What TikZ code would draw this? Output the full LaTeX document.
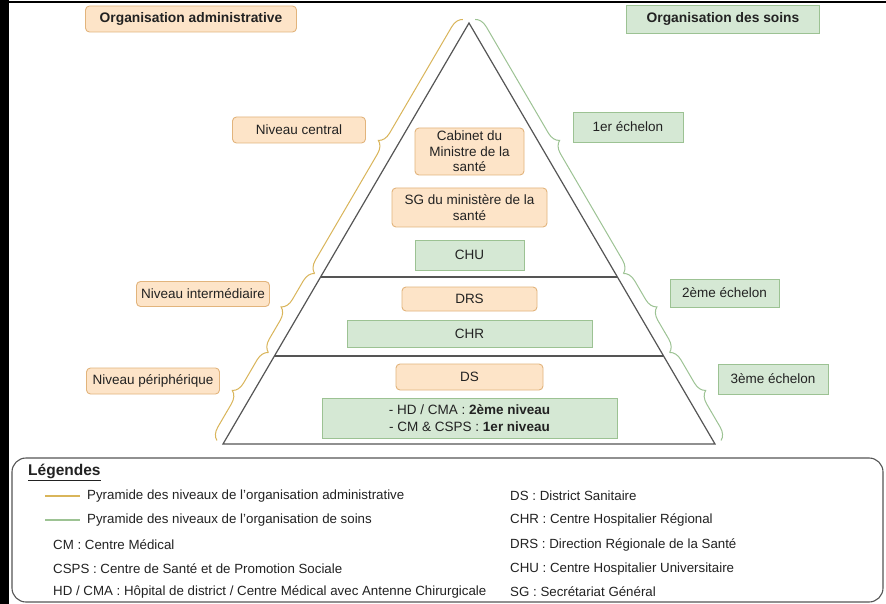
\documentclass[tikz,border=0pt]{standalone}
\usepackage{fontspec}
\setmainfont{Liberation Sans}
\usetikzlibrary{decorations.pathreplacing,calc}
\definecolor{oFill}{HTML}{FDE4C8}
\definecolor{oStroke}{HTML}{E2B47C}
\definecolor{gFill}{HTML}{D5E8D4}
\definecolor{gStroke}{HTML}{9CC293}
\definecolor{oBrace}{HTML}{D9B55A}
\definecolor{gBrace}{HTML}{9DC394}
\definecolor{pyr}{HTML}{555555}
\definecolor{txt}{HTML}{222222}
\newcommand\bxf{\fontsize{13.5}{15.5}\selectfont}
\newcommand\lgf{\fontsize{13.3}{15}\selectfont}
\tikzset{
  obox/.style={draw=oStroke, fill=oFill, rounded corners=4pt, line width=0.9pt, inner sep=0pt, align=center, font=\bxf, text=txt},
  gbox/.style={draw=gStroke, fill=gFill, line width=0.9pt, inner sep=0pt, align=center, font=\bxf, text=txt},
  obrace/.style={draw=oBrace, line width=1pt, decorate, decoration={brace, amplitude=12pt}},
  gbrace/.style={draw=gBrace, line width=1pt, decorate, decoration={brace, amplitude=12pt}},
  pyrline/.style={draw=pyr, line width=1.2pt},
  lgtxt/.style={anchor=west, inner sep=0pt, font=\lgf, text=txt},
}
\begin{document}
\begin{tikzpicture}[x=1pt,y=-1pt]
\useasboundingbox (0,0) rectangle (886,604);
\fill[white] (0,0) rectangle (886,604);
% screenshot frame
\fill[black] (0,0) rectangle (9,604);
\fill[black] (0,0.8) rectangle (886,3);

% pyramid
\coordinate (apex) at (469,23);
\coordinate (bl) at (223,444);
\coordinate (br) at (715,444);
\coordinate (l1) at (320.6,277);
\coordinate (r1) at (617.4,277);
\coordinate (l2) at (274.4,356);
\coordinate (r2) at (663.6,356);
\draw[pyrline, line join=miter] (apex) -- (bl) -- (br) -- cycle;
\draw[pyrline] (l1) -- (r1);
\draw[pyrline] (l2) -- (r2);

% braces (left: administrative, right: soins)
\draw[obrace] ($(l1)+(-6.05,-3.52)$) -- ($(apex)+(-6.05,-3.52)$);
\draw[obrace] ($(l2)+(-6.05,-3.52)$) -- ($(l1)+(-6.05,-3.52)$);
\draw[obrace] ($(bl)+(-6.05,-3.52)$) -- ($(l2)+(-6.05,-3.52)$);
\draw[gbrace] ($(apex)+(6.05,-3.52)$) -- ($(r1)+(6.05,-3.52)$);
\draw[gbrace] ($(r1)+(6.05,-3.52)$) -- ($(r2)+(6.05,-3.52)$);
\draw[gbrace] ($(r2)+(6.05,-3.52)$) -- ($(br)+(6.05,-3.52)$);

% titles
\node[obox, minimum width=211pt, minimum height=26pt, font=\fontsize{13.8}{16}\selectfont\bfseries] (tadm) at (191,19) {Organisation administrative};
\node[gbox, minimum width=193pt, minimum height=28pt, font=\fontsize{13.8}{16}\selectfont\bfseries] (tsoin) at (723,19) {Organisation des soins};

% level labels
\node[obox, minimum width=133pt, minimum height=26pt] (ncen) at (299,130) {Niveau central};
\node[obox, minimum width=133pt, minimum height=25pt] (nint) at (203,294) {Niveau intermédiaire};
\node[obox, minimum width=133pt, minimum height=26pt] (nper) at (153,381) {Niveau périphérique};
\node[gbox, minimum width=110pt, minimum height=30pt] (e1) at (628,127) {1er échelon};
\node[gbox, minimum width=109pt, minimum height=28pt] (e2) at (724.5,293) {2ème échelon};
\node[gbox, minimum width=110pt, minimum height=30pt] (e3) at (773,379) {3ème échelon};

% inside pyramid
\node[obox, minimum width=109pt, minimum height=47pt] (cab) at (469.5,151.5) {Cabinet du\\Ministre de la\\santé};
\node[obox, minimum width=155pt, minimum height=39pt] (sg) at (469.5,207.5) {SG du ministère de la\\santé};
\node[gbox, minimum width=109pt, minimum height=30pt] (chu) at (469.5,255) {CHU};
\node[obox, minimum width=135pt, minimum height=24pt] (drs) at (469.5,299) {DRS};
\node[gbox, minimum width=245pt, minimum height=27pt] (chr) at (469.5,333.5) {CHR};
\node[obox, minimum width=147pt, minimum height=26pt] (ds) at (469.5,377) {DS};
\node[gbox, minimum width=295pt, minimum height=40pt, font=\fontsize{13.5}{17}\selectfont] (hd) at (469.5,418) {- HD / CMA : \textbf{2ème niveau}\\- CM \& CSPS : \textbf{1er niveau}};

% legend
\node[draw=pyr, line width=1.1pt, rounded corners=14pt, minimum width=871pt, minimum height=144pt, inner sep=0pt] (leg) at (447.5,530) {};
\node[anchor=west, inner sep=0pt, font=\fontsize{15.5}{17}\selectfont\bfseries, text=txt] (legt) at (28,472) {\underline{Légendes}};
\coordinate (ya) at (45,496);
\coordinate (yb) at (80,496);
\coordinate (ga) at (45,520);
\coordinate (gb) at (80,520);
\draw[draw=oBrace, line width=1.2pt] (ya) -- (yb);
\draw[draw=gBrace, line width=1.2pt] (ga) -- (gb);
\node[lgtxt] (lg1) at (87,496) {Pyramide des niveaux de l'organisation administrative};
\node[lgtxt] (lg2) at (87,520) {Pyramide des niveaux de l'organisation de soins};
\node[lgtxt] (lg3) at (53,545) {CM : Centre Médical};
\node[lgtxt] (lg4) at (53,569) {CSPS : Centre de Santé et de Promotion Sociale};
\node[lgtxt] (lg5) at (53,592) {HD / CMA : Hôpital de district / Centre Médical avec Antenne Chirurgicale};
\node[lgtxt] (lg6) at (510,496) {DS : District Sanitaire};
\node[lgtxt] (lg7) at (510,520) {CHR : Centre Hospitalier Régional};
\node[lgtxt] (lg8) at (510,545) {DRS : Direction Régionale de la Santé};
\node[lgtxt] (lg9) at (510,569) {CHU : Centre Hospitalier Universitaire};
\node[lgtxt] (lg10) at (510,592) {SG : Secrétariat Général};
\end{tikzpicture}
\end{document}
